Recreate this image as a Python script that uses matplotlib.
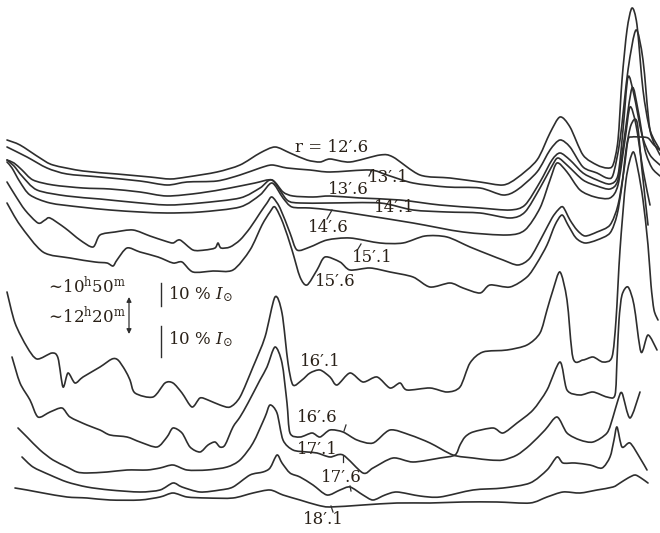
import matplotlib
matplotlib.use("Agg")
import matplotlib.pyplot as plt
from matplotlib.path import Path
from matplotlib.patches import PathPatch
import numpy as np

# ---- data: traced profiles (x = position, y = intensity level, screen units, down = lower) ----
labels = ["r = 12′.6", "13′.1", "13′.6", "14′.1", "14′.6", "15′.1", "15′.6",
          "16′.1", "16′.6", "17′.1", "17′.6", "18′.1"]

x_126 = [7,20,40,53,83,117,150,170,187,217,240,260,275,290,307,320,330,350,380,393,420,450,480,503,517,537,550,560,570,583,597,607,613,618,622,627,632,637,643,650,660]
y_126 = [140,145,158,165,171,174,177,179,177,172,165,153,147,153,160,162,159,162,155,157,175,178,182,185,178,160,133,117,127,155,165,168,165,140,80,30,8,25,90,130,150]

x_131 = [7,27,47,67,100,140,167,187,217,240,260,272,287,310,330,370,387,413,447,480,503,517,537,550,560,570,583,597,607,613,620,628,636,643,650,660]
y_131 = [147,157,168,174,177,181,185,182,181,175,168,165,168,170,172,170,175,183,187,188,195,190,172,150,140,147,167,173,178,175,140,70,30,60,130,155]

x_136 = [7,14,22,33,53,83,110,140,167,200,230,255,272,283,293,313,330,360,400,440,480,510,525,540,552,560,570,583,597,610,618,623,628,634,642,650,660]
y_136 = [160,163,170,180,185,188,189,192,196,193,188,183,180,192,196,197,196,198,200,205,208,210,205,182,160,153,160,173,180,184,175,130,77,95,135,155,165]

x_141 = [7,14,22,37,67,100,130,167,200,240,260,272,287,300,330,380,413,447,480,510,525,540,552,558,568,583,597,610,618,624,632,638,645,652,660]
y_141 = [160,166,176,190,196,199,202,205,203,198,188,180,200,203,203,203,210,212,213,218,212,188,166,158,166,180,186,189,180,140,88,110,150,168,176]

x_146 = [7,12,20,30,50,80,110,140,167,200,240,260,272,283,292,310,330,363,413,463,507,525,540,550,557,567,580,595,610,618,625,630,636,643,650]
y_146 = [162,168,182,195,203,207,210,212,213,212,207,195,183,198,207,208,210,215,223,232,235,230,208,180,163,172,190,197,198,185,140,107,125,170,205]

x_151 = [7,15,25,38,45,50,65,80,93,100,115,133,150,165,173,180,193,205,215,218,221,230,240,250,260,267,272,280,290,297,310,327,350,380,403,425,447,470,490,503,518,530,543,552,558,563,570,577,585,597,610,618,624,628,632,640,648,654,660]
y_151 = [182,195,210,223,220,218,228,240,247,235,232,230,236,241,243,240,250,250,248,243,248,247,240,228,213,203,197,208,233,250,247,240,238,243,243,236,237,247,255,260,265,258,235,218,210,207,220,230,236,232,225,205,170,140,137,137,138,145,150]

x_156 = [7,20,43,70,95,107,113,117,127,140,158,173,182,193,213,233,250,262,270,275,283,292,300,307,317,325,340,350,370,390,413,430,450,463,480,490,510,527,537,547,555,562,568,576,585,597,610,617,622,626,631,637,642,648]
y_156 = [203,225,252,258,262,263,266,260,248,252,257,263,262,272,271,270,250,225,212,207,223,250,277,285,270,257,262,270,268,272,277,287,283,288,293,285,287,277,263,245,225,215,225,238,243,240,233,215,185,150,125,122,170,225]

x_161 = [7,15,27,37,52,58,63,68,75,83,100,112,118,125,130,135,153,165,173,182,192,200,208,220,230,240,253,265,275,282,288,293,302,310,320,330,337,350,363,377,390,400,407,430,447,460,470,483,507,527,540,547,553,560,567,573,583,593,603,612,616,620,626,633,638,643,648,651,654,658]
y_161 = [292,323,347,359,353,358,387,373,383,377,367,359,360,370,380,393,397,383,383,393,407,398,400,405,407,397,367,337,297,313,363,385,380,373,370,377,385,373,382,377,388,383,390,388,392,387,363,352,350,345,333,310,290,272,300,358,360,357,362,357,320,250,180,152,170,200,245,285,310,320]

x_166 = [12,20,30,38,50,62,70,87,100,110,127,140,157,167,173,182,190,200,208,215,220,225,233,240,248,260,267,275,282,287,290,300,312,320,330,343,357,373,390,410,430,453,473,490,503,517,530,545,557,567,580,593,607,613,618,622,630,640]
y_166 = [357,383,400,417,412,408,417,425,430,435,437,442,447,437,428,433,447,452,445,442,447,445,427,417,403,380,367,347,363,403,433,437,433,437,430,432,440,443,430,435,443,455,458,460,460,455,445,430,417,433,440,442,433,417,400,393,418,392]

x_171 = [18,27,40,53,67,77,87,107,127,147,160,173,187,207,227,240,253,265,270,277,283,293,307,317,330,343,363,373,393,413,440,455,460,465,473,493,503,517,533,547,560,567,580,593,607,615,617,619,622,628,634,641,648,657]
y_171 = [428,437,450,460,467,472,473,472,470,470,468,465,470,470,467,460,443,417,405,413,440,450,452,453,457,455,473,468,458,462,458,455,445,437,432,428,433,423,410,390,362,390,395,392,397,395,360,320,295,287,305,352,335,350]

x_176 = [22,33,50,67,87,110,140,160,173,182,200,220,233,250,263,270,277,282,290,300,313,327,340,350,363,373,385,397,420,440,473,503,530,547,557,563,575,590,602,610,614,617,622,630,640,647]
y_176 = [457,467,475,482,487,490,492,490,483,487,492,490,487,475,472,468,455,463,473,477,485,495,490,487,495,500,495,492,496,497,490,488,483,470,457,463,463,465,468,457,440,427,447,443,458,470]

x_181 = [15,27,43,67,87,110,140,160,173,187,207,233,253,270,283,300,317,330,363,397,430,463,497,530,547,563,580,597,613,620,628,635,641,648]
y_181 = [488,490,493,497,498,500,500,497,493,497,498,498,493,490,495,500,505,507,505,503,503,502,502,503,497,492,493,490,487,483,478,475,478,483]

curves_x = [x_126, x_131, x_136, x_141, x_146, x_151, x_156, x_161, x_166, x_171, x_176, x_181]
curves_y = [y_126, y_131, y_136, y_141, y_146, y_151, y_156, y_161, y_166, y_171, y_176, y_181]

# label anchor positions (text centres)
label_x = [332, 388, 348, 394, 328, 372, 335, 320, 317, 317, 341, 323]
label_y = [147, 177, 189, 208, 228, 257, 282, 362, 418, 450, 478, 520]

plt.rcParams['mathtext.fontset'] = 'dejavuserif'
fam = ['DejaVu Serif', 'DejaVu Sans']


def smooth_path(xs, ys, k=0.14):
    """Bezier path passing through every traced point (Catmull-Rom style tangents)."""
    p = np.column_stack([xs, ys]).astype(float)
    n = len(p)
    verts = [p[0]]
    codes = [Path.MOVETO]
    for i in range(n - 1):
        p0 = p[i - 1] if i > 0 else p[i]
        p1 = p[i]
        p2 = p[i + 1]
        p3 = p[i + 2] if i + 2 < n else p[i + 1]
        c1 = p1 + (p2 - p0) * k
        c2 = p2 - (p3 - p1) * k
        verts += [c1, c2, p2]
        codes += [Path.CURVE4] * 3
    return Path(verts, codes)


fig = plt.figure(figsize=(6.6, 5.33), dpi=100)
ax = fig.add_axes([0, 0, 1, 1])
ax.set_xlim(0, 660)
ax.set_ylim(533, 0)
ax.axis('off')

line_col = '#2e2e2e'
for xs, ys in zip(curves_x, curves_y):
    ax.add_patch(PathPatch(smooth_path(xs, ys), facecolor='none', edgecolor=line_col,
                           lw=1.2, joinstyle='round', capstyle='round'))

txt_col = '#2a2118'
for lab, lx, ly in zip(labels, label_x, label_y):
    ax.text(lx, ly, lab, ha='center', va='center', fontsize=12,
            family=fam, color=txt_col)

# small pointer ticks from labels to curves
ticks = [((327, 219), (332, 210)), ((358, 249), (361, 244)), ((372, 170), (369, 176)),
         ((344, 431), (346, 425)), ((343, 462), (343, 456)), ((351, 491), (350, 486)),
         ((333, 512), (331, 506))]
for (a, b) in ticks:
    ax.plot([a[0], b[0]], [a[1], b[1]], color=line_col, lw=0.9)

# time annotations
ax.text(85, 287, r'$\sim\!10^{\mathrm{h}}50^{\mathrm{m}}$', ha='center', va='center',
        fontsize=12, color=txt_col)
ax.text(85, 316, r'$\sim\!12^{\mathrm{h}}20^{\mathrm{m}}$', ha='center', va='center',
        fontsize=12, color=txt_col)
ax.annotate('', xy=(129, 297), xytext=(129, 334),
            arrowprops=dict(arrowstyle='<|-|>', color=line_col, lw=0.9,
                            mutation_scale=7, shrinkA=0, shrinkB=0))

# scale bars
ax.plot([161, 161], [283, 306], color=line_col, lw=1.0)
ax.plot([161, 161], [326, 357], color=line_col, lw=1.0)
ax.text(168, 294, r'$10\ \%\ I_{\odot}$', ha='left', va='center', fontsize=12, color=txt_col)
ax.text(168, 339, r'$10\ \%\ I_{\odot}$', ha='left', va='center', fontsize=12, color=txt_col)

fig.savefig('out.png', dpi=100, facecolor='white')
